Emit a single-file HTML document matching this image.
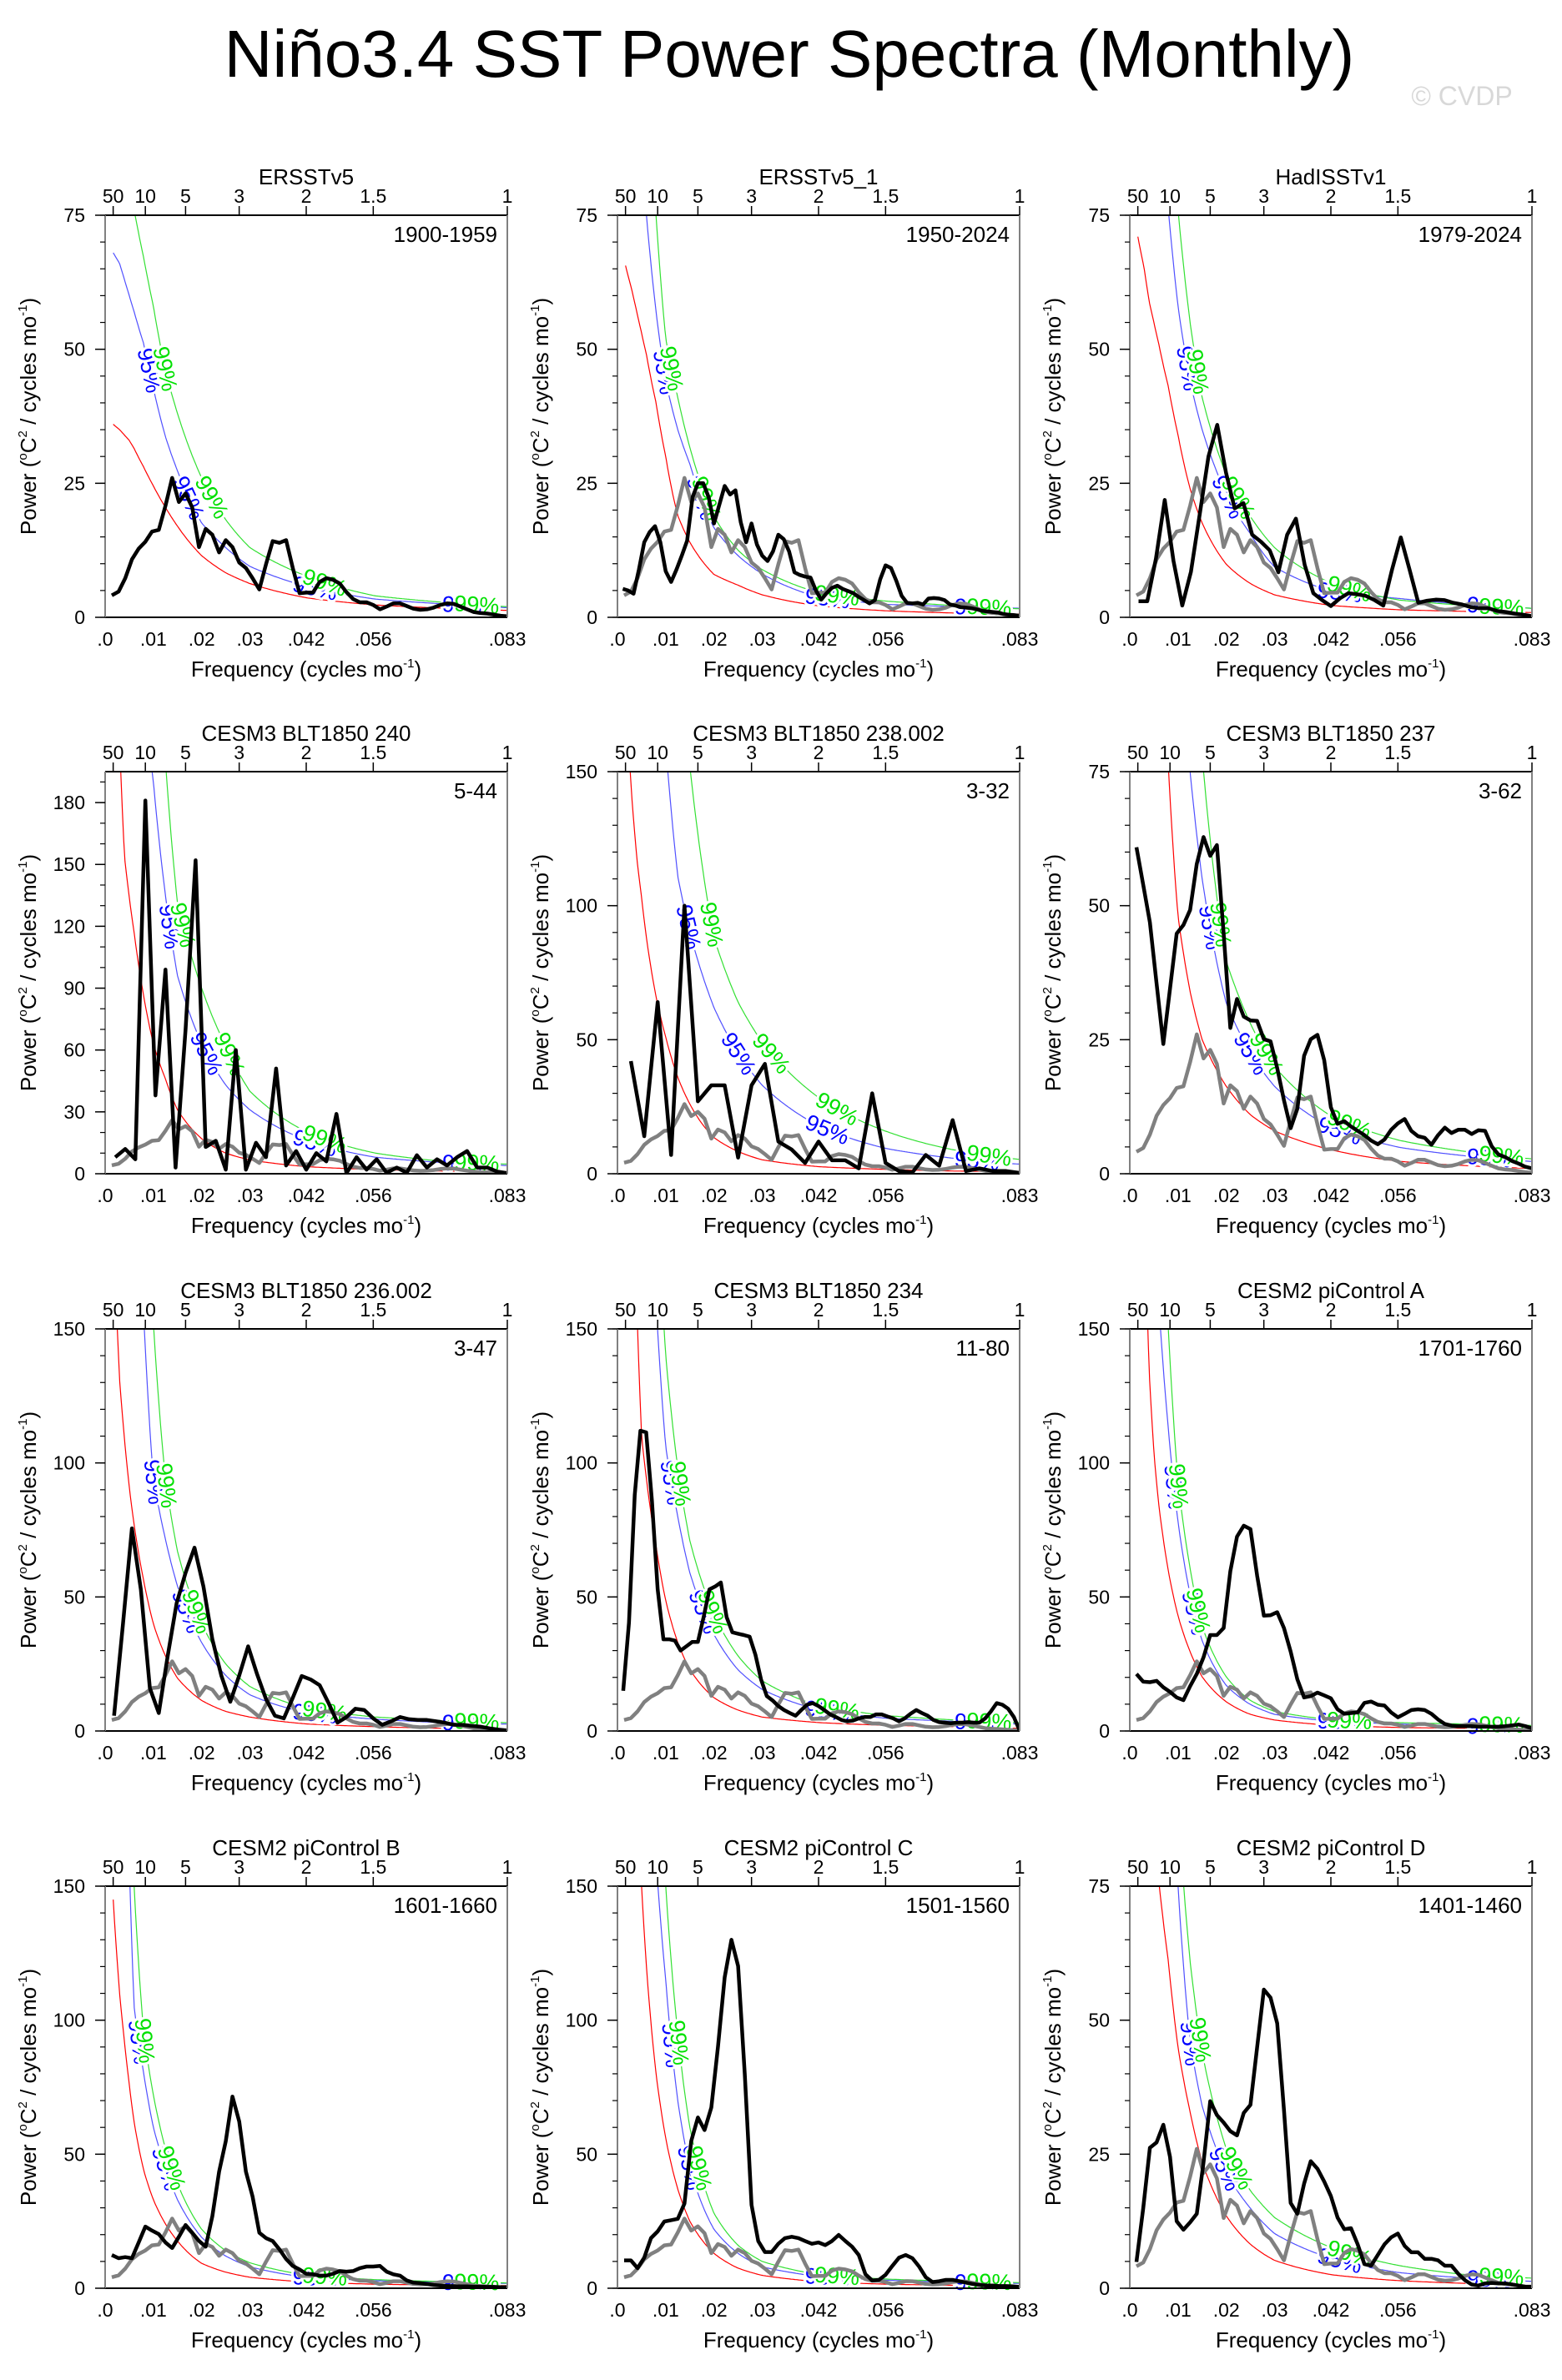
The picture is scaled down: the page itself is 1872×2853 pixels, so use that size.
<!DOCTYPE html>
<html><head><meta charset="utf-8"><title>Niño3.4 SST Power Spectra</title>
<style>
html,body{margin:0;padding:0;background:#fff;}
svg{display:block;font-family:"Liberation Sans",Arial,sans-serif;}
</style></head>
<body>
<svg id="fig" width="1872" height="2853" viewBox="0 0 1872 2853" xmlns="http://www.w3.org/2000/svg">
<rect x="0" y="0" width="1872" height="2853" fill="#fff"/>
<text x="946" y="92" font-size="80" text-anchor="middle" fill="#000">Niño3.4 SST Power Spectra (Monthly)</text>
<text x="1752" y="126" font-size="32" text-anchor="middle" fill="#d8d8d8">© CVDP</text>
</svg>
<script>
// ---------- data ----------
const panelTitles = ["ERSSTv5","ERSSTv5_1","HadISSTv1","CESM3 BLT1850 240","CESM3 BLT1850 238.002","CESM3 BLT1850 237","CESM3 BLT1850 236.002","CESM3 BLT1850 234","CESM2 piControl A","CESM2 piControl B","CESM2 piControl C","CESM2 piControl D"];
const periodLabels = ["1900-1959","1950-2024","1979-2024","5-44","3-32","3-62","3-47","11-80","1701-1760","1601-1660","1501-1560","1401-1460"];
const recordMonths = [720,900,552,480,360,720,540,840,720,720,720,720];
const yMax = [75,75,75,195,150,75,150,150,150,150,150,75];
const yTicks75 = [0,25,50,75];
const yTicks150 = [0,50,100,150];
const yTicks195 = [0,30,60,90,120,150,180];
const xTickValues = [0,0.01,0.02,0.03,1/24,1/18,1/12];
const xTickLabels = [".0",".01",".02",".03",".042",".056",".083"];
const periodTickYears = [50,10,5,3,2,1.5,1];
const periodTickLabels = ["50","10","5","3","2","1.5","1"];
const curveFreqs = [0.00167,0.003,0.004,0.005,0.006,0.008,0.01,0.0125,0.015,0.02,0.025,0.03,0.042,0.056,0.07,0.083];

const spec1 = [4.1,4.8,7.3,10.8,12.8,14.1,16,16.3,20.8,26,21.5,23.1,20.5,13.1,16.5,15.4,12.1,14.4,13.1,10.2,9.2,7.3,5.2,9.9,14.2,13.9,14.4,9.2,4.5,4.6,4.6,6.6,7.3,7,6.3,4.7,3.4,2.8,2.8,2.3,1.5,2.0,2.6,2.6,2.1,1.6,1.4,1.5,1.8,2.3,2.6,2.5,2.0,1.5,1.0,0.8,0.7,0.5,0.3,0.2];
const spec2 = [5.3,5.0,4.4,8.9,14,15.9,17,14,8.6,6.6,8.9,11.5,14.3,22.4,25,25,22.4,17.5,21,24.5,22.9,23.7,17.7,14,17.5,13.6,11.5,10.5,12.3,15.4,14.6,12.3,8.4,7.9,7.6,7.4,5,3.3,4.5,5.5,5.9,5.3,4.9,4.5,3.8,3.2,2.6,3.2,7.1,9.7,9.2,6.8,4,2.7,2.6,2.7,2.4,3.5,3.6,3.5,3.2,2.4,2.2,1.9,1.8,1.7,1.5,1.2,1.1,1.0,0.9,0.6,0.5,0.4,0.3];
const spec3 = [3,3,11,21.9,10.5,2.2,8.5,19.2,30,35.9,27,20.3,21.3,15.4,14.1,12.5,8.4,15.4,18.4,9.8,4.5,3.2,2.1,3.5,4.5,4.3,4,3.2,2.2,8.9,14.9,8.9,2.7,3.1,3.3,3.2,2.7,2.4,1.9,1.7,1.7,1.2,1.0,0.7,0.5,0.2];
const spec4 = [8,12,7,181,38,99,3,70,152,13,16,2,60,2,15,8,51,4,11,2,10,6,29,0.3,8,2,7,0.5,3,0.5,9,3,7,4,8,11,3,3,1,0.3];
const spec5 = [42,14,64,7,100,27,33,33,6,33,41,12,9,4,12,5,5,2,30,4,1,0.5,7,3,20,1,2,1,1,0.3];
const spec6 = [60.9,53.9,46.9,35.5,24.2,34.5,44.8,46.4,49.2,57.8,62.8,59.3,61.3,44.8,27.2,32.6,29.3,28.6,28.5,25.1,24.7,19.7,13.7,8.5,12.1,22,25.1,25.9,21.2,12.4,9.3,9.8,8.8,8,7.2,6.2,5.5,6.4,8.2,9.4,10.2,8,7,6.7,5.4,7.2,8.6,7.6,8.2,8.2,7.4,8.1,8,5.1,3.6,3.1,2.4,1.9,1.3,1];
const spec7 = [5.7,40,75.6,52.8,16,6.7,28,47.7,59,68.4,53.9,34.2,20.7,10.9,20.7,31.6,21.2,11.9,5.7,4.7,12.4,20.5,19.2,17.1,10.4,3.1,5.2,8.3,7.8,4.7,2.3,3.6,5.2,4.4,4.1,4.1,3.6,3.1,2.3,2.3,1.9,1.6,1,0.5,0.2];
const spec8 = [15,40.4,88,112,111.4,86,52.8,34.2,34.2,33.7,30,31.6,33.2,33.2,42.5,52.8,53.9,55.4,42.5,36.8,36.3,35.8,35.2,28.5,19.2,13,11.4,9.3,7.8,6.7,5.7,7.8,9.8,10.4,9.3,7.8,6.2,5.2,4.1,3.6,3.9,4.7,5.2,5.2,6.2,6.2,5.4,4.7,3.6,4.7,6.4,7.8,6.7,5.7,4.1,3.3,3.1,2.9,3.1,3.1,3.3,3.1,3.1,4.7,7.3,10.4,9.8,8.3,5.2,0.2];
const spec9 = [21.3,18.4,18.2,18.7,16.3,14.6,12.5,11.5,16.7,21.3,27.5,35.8,35.8,38.4,59.6,72.5,76.6,75.3,58,43,43.2,44.3,38.4,29.6,19.3,12.5,13,14.3,13.3,12.2,8.1,6.4,6.7,6.9,10.5,11,9.8,9.5,6.9,5.1,6.4,7.8,8.1,7.8,6.4,4.3,2.6,2,1.8,1.8,1.8,1.6,1.6,1.6,1.6,1.8,2.1,2.4,1.8,1];
const spec10 = [12.4,11.2,11.6,11.2,17.1,23,21.5,20.2,17.1,15,19.2,23.6,20.7,17.6,15.5,26.9,43.5,54.9,71.5,62.2,43.5,34.2,20.7,18.7,17.6,14.5,10.9,8.3,7,5.4,5.2,4.7,4.7,5.4,6.4,6.2,6.4,7.5,8.1,8.1,8.3,6.2,5.2,4.7,2.9,2.1,1.9,1.6,1.2,1,0.8,0.8,0.7,0.7,0.6,0.6,0.5,0.5,0.4,0.4];
const spec11 = [10.4,10.4,7.5,11.4,18.7,21.2,24.9,25.4,25.9,31.6,54.9,63.7,59,67.4,90.2,116,130,120.2,79.8,31.1,17.6,13.5,13.5,16.6,18.7,19.2,18.7,17.6,16.6,17.1,16.1,17.6,19.9,17.6,15.5,12.4,5.2,2.9,3.1,5,8.3,11.4,12.4,11.2,8.1,4.1,2.3,2.6,3.1,3.1,2.6,2.1,1.6,1.2,1,1,0.8,0.8,0.7,0.5];
const spec12 = [4.9,14.9,26.2,27.2,30.5,24.5,12.5,10.9,12.3,13.9,23.5,34.9,32.3,30.9,29.3,28.5,32.7,34.2,44.9,55.7,54.2,49.4,33.2,15.9,13.9,19.5,23.7,22.3,19.9,17.2,13.2,11,11.2,8.2,4.5,4.2,6.2,8.2,9.5,10.2,7.9,6.7,6.7,5.5,5.5,5.2,4.2,4.2,2.7,1.5,0.7,0.5,0.9,1,0.9,0.9,0.7,0.5,0.3,0.3];
const referenceSpec = spec1;

const red1 = [36,35,34,33,31.5,28,24.5,20.5,17,11.5,8.3,6.3,3.6,2.3,1.7,1.3];
const red2 = [65.6,61,57,53,49,40,30,19,14,8,6,4.2,2.1,1.2,0.8,0.6];
const red3 = [71,65,59,55,51,43,34,24,17.6,9.9,6.3,4.2,2.2,1.4,1.1,0.9];
const red4 = [300,210,154,134,117,86,63,46,31,17,10,6.7,3.4,2,1.3,1];
const red5 = [180,140,118,103,88,66,51,36,26,13.5,8.3,5.2,2.6,1.6,1,0.8];
const red6 = [250,180,150,130,110,76,48,34,25,16.3,11,8,4.4,2.3,1.5,1];
const red7 = [190,131,109,91,77,56,40,28,19.7,11.4,7.3,5.2,2.6,1.6,1,0.5];
const red8 = [400,250,160,110,94,69,48.7,33,23,12.4,7.8,5.2,3.1,2.1,1.6,1];
const red9 = [400,200,135,104,84.5,59.6,43,29.6,20.2,10.9,6.2,4.1,2.1,1.3,1,0.7];
const red10 = [145,110,92,76,62,44,33,24,17.6,9.3,6,4.1,2.3,1.5,1.2,1];
const red11 = [400,250,180,150,120,80,56,37,25,13,7.5,4.8,2.4,1.5,1.1,0.8];
const red12 = [300,180,140,110,76,60.9,44.9,32.9,23.5,13.5,8.2,5.2,2.5,1.4,0.9,0.5];

const sig95_1 = [68,66,63,60,57,51,42.7,33.7,27.3,17.6,13,9.5,5.7,3.4,2.5,1.8];
const sig95_2 = [150,120,105,90,75,57,44,35,28.6,16.7,11.5,8.1,3.7,2.4,2,1.7];
const sig95_3 = [200,150,130,110,95,76,58,44,35,23,15.6,9.4,4.8,3.5,2.4,1.7];
const sig95_4 = [600,450,380,330,290,230,190,135,96,63,43,31,16,8,5.4,4];
const sig95_5 = [600,450,380,320,270,200,160,111,90,62,45,33,17.6,9.3,5.7,3.6];
const sig95_6 = [800,500,400,300,250,160,110,75,55,31.8,22.5,16.3,8.5,4.9,3.3,2.3];
const sig95_7 = [600,400,300,230,190,155,94,71.5,54,33,20.7,13.5,6.7,4.4,3.1,2.6];
const sig95_8 = [800,500,400,300,240,160,106,80,59,36,22.8,15.5,7.8,4.7,3.6,2.6];
const sig95_9 = [800,400,300,220,160,112.5,78,51,33.7,17,9.9,6.2,3.6,2.6,1.8,1.6];
const sig95_10 = [400,250,200,160,105,80,60,45,33,19,12,8,4,2.8,2.2,1.8];
const sig95_11 = [900,500,380,300,230,160,115,70,45,22,13,8,4.3,3,2.2,1.8];
const sig95_12 = [600,400,300,220,170,110,75,46,34,21.5,14.9,10.2,5.5,2.9,1.9,1.3];

const sig99_1 = [90,86,83,79,76,67,58,46,38,26,18.2,13,7.6,4,2.8,2];
const sig99_2 = [200,160,135,115,98,75,52,41,31.7,18.8,12.5,8.9,4.5,3,2.2,1.6];
const sig99_3 = [250,200,170,150,130,100,76,55,41,26.5,18.8,13,6.3,3.2,2.2,1.7];
const sig99_4 = [800,600,500,450,400,320,250,200,131,90,62,40,20,10,6,4.7];
const sig99_5 = [900,700,600,500,420,330,260,190,152,88,64,49,28,15.6,8.8,5.4];
const sig99_6 = [1000,700,550,450,380,260,180,120,78,39.6,28,20,10.6,6.2,4.1,2.8];
const sig99_7 = [800,500,400,320,260,190,152,94,67,40,25,16.6,8.3,5.2,3.9,3.1];
const sig99_8 = [1000,600,500,400,320,210,140,98,71,43.5,28,18.7,9.3,5.7,4.1,3.1];
const sig99_9 = [1000,500,380,280,200,150,93,60.7,39,20.2,11.4,7.3,4.1,3.1,2.6,2.1];
const sig99_10 = [500,300,250,200,150,95,72,52,39,22,14,9.5,4.8,3.2,2.5,2];
const sig99_11 = [1100,700,500,400,320,220,150,95,60,28,16,10,5,3.4,2.6,2.1];
const sig99_12 = [800,500,400,300,220,150,90,61,44,26,18.2,13.2,7.5,4.2,2.5,1.9];

const spectra = [spec1,spec2,spec3,spec4,spec5,spec6,spec7,spec8,spec9,spec10,spec11,spec12];
const redCurves = [red1,red2,red3,red4,red5,red6,red7,red8,red9,red10,red11,red12];
const sig95Curves = [sig95_1,sig95_2,sig95_3,sig95_4,sig95_5,sig95_6,sig95_7,sig95_8,sig95_9,sig95_10,sig95_11,sig95_12];
const sig99Curves = [sig99_1,sig99_2,sig99_3,sig99_4,sig99_5,sig99_6,sig99_7,sig99_8,sig99_9,sig99_10,sig99_11,sig99_12];

// ---------- drawing ----------
const NS = "http://www.w3.org/2000/svg";
const svg = document.getElementById("fig");
const colLeft = [126,740,1354];
const rowTop = [258,925,1593,2261];
const W = 482, H = 482, FMAX = 1/12;

function el(tag, parent){ const e = document.createElementNS(NS, tag); parent.appendChild(e); return e; }
function interpCurve(arr, f){
  if (f <= curveFreqs[0]) return arr[0];
  for (let i=1;i<curveFreqs.length;i++){
    if (f <= curveFreqs[i]){
      const t=(f-curveFreqs[i-1])/(curveFreqs[i]-curveFreqs[i-1]);
      return Math.exp(Math.log(arr[i-1])*(1-t)+Math.log(arr[i])*t);
    }
  }
  return arr[arr.length-1];
}

for (let p=0;p<12;p++){
  const L = colLeft[p%3], T = rowTop[Math.floor(p/3)], ym = yMax[p];
  const xs = f => L + f/FMAX*W;
  const ys = v => T + H - v/ym*H;
  const g = el("g", svg);
  
  

  const cp = el("clipPath", g); cp.setAttribute("id","clip"+p);
  const cr = el("rect", cp); cr.setAttribute("x",L); cr.setAttribute("y",T); cr.setAttribute("width",W); cr.setAttribute("height",H);

  const curveDefs = [[redCurves[p],"#ff0000","red-noise-curve"],[sig95Curves[p],"#5050ff","confidence-95-curve"],[sig99Curves[p],"#33e033","confidence-99-curve"]];
  const labelLayer = [];
  curveDefs.forEach(([arr,col,nm],ci)=>{
    let d="";
    for (let i=0;i<=300;i++){
      const f = curveFreqs[0] + (FMAX-curveFreqs[0])*i/300;
      let y = ys(interpCurve(arr,f)); if (y < T-50) y = T-50;
      d += (i?"L":"M")+xs(f).toFixed(1)+","+y.toFixed(1);
    }
    const path = el("path", g);
    path.setAttribute("d", d); path.setAttribute("fill","none"); path.setAttribute("stroke",col); path.setAttribute("stroke-width","1.2");
    path.setAttribute("clip-path","url(#clip"+p+")");
    
    
    if (ci>0){
      const txt = ci===1?"95%":"99%";
      const tcol = ci===1?"#0000ff":"#00e000";
      const spots = [];
      [0.62,0.3].forEach(fr=>{
        for (let i=0;i<=600;i++){ const f=curveFreqs[0]+(FMAX-curveFreqs[0])*i/600; if (interpCurve(arr,f)<=fr*ym){ spots.push(f); break; } }
      });
      spots.push(ci===1?0.0435:0.0455); spots.push(ci===1?0.0745:0.077);
      spots.forEach(f=>labelLayer.push([f,arr,txt,tcol,ci]));
    }
  });
  labelLayer.forEach(([f,arr,txt,tcol,ci])=>{
    const x1=xs(f-0.0008), y1=ys(interpCurve(arr,f-0.0008)), x2=xs(f+0.0008), y2=ys(interpCurve(arr,f+0.0008));
    const ang = Math.atan2(y2-y1,x2-x1)*180/Math.PI;
    const x=xs(f), y=ys(interpCurve(arr,f));
    if (y < T+10 || y > T+H) return;
    const t = el("text", g);
    t.setAttribute("x",x); t.setAttribute("y",y); t.setAttribute("font-size","27"); t.setAttribute("fill",tcol);
    t.setAttribute("text-anchor","middle"); t.setAttribute("dominant-baseline","central");
    t.setAttribute("stroke","#fff"); t.setAttribute("stroke-width","6"); t.setAttribute("paint-order","stroke");
    t.setAttribute("transform","rotate("+ang.toFixed(1)+" "+x.toFixed(1)+" "+y.toFixed(1)+")");
    t.textContent = txt;
    
    
  });

  const drawSpec = (arr, N, col, nm) => {
    let d="";
    arr.forEach((v,i)=>{ d += (i?"L":"M")+xs((i+1)/N).toFixed(1)+","+ys(v).toFixed(1); });
    const path = el("path", g);
    path.setAttribute("d", d); path.setAttribute("fill","none"); path.setAttribute("stroke",col);
    path.setAttribute("stroke-width","4.5"); path.setAttribute("stroke-linejoin","round");
    path.setAttribute("clip-path","url(#clip"+p+")");
    
    
  };
  if (p>0) drawSpec(referenceSpec, 720, "#808080", "reference-spectrum-line");
  drawSpec(spectra[p], recordMonths[p], "#000", "power-spectrum-line");

  const frame = [[L,T,L+W,T,"#000"],[L,T+H,L+W,T+H,"#000"],[L,T,L,T+H,"#808080"],[L+W,T,L+W,T+H,"#808080"]];
  frame.forEach(([a,b,c,dd,col],i)=>{
    const ln = el("line", g);
    ln.setAttribute("x1",a); ln.setAttribute("y1",b); ln.setAttribute("x2",c); ln.setAttribute("y2",dd);
    ln.setAttribute("stroke",col); ln.setAttribute("stroke-width","2");
    
    
  });

  const yt = ym===75?yTicks75:(ym===195?yTicks195:yTicks150);
  const minorStep = ym===75?5:10;
  for (let v=0; v<=ym; v+=minorStep){
    const tk = el("line", g);
    tk.setAttribute("x1",L-6); tk.setAttribute("x2",L); tk.setAttribute("y1",ys(v)); tk.setAttribute("y2",ys(v));
    tk.setAttribute("stroke","#000"); tk.setAttribute("stroke-width","1.2");
    
    
  }
  yt.forEach(v=>{
    const tk = el("line", g);
    tk.setAttribute("x1",L-12); tk.setAttribute("x2",L); tk.setAttribute("y1",ys(v)); tk.setAttribute("y2",ys(v));
    tk.setAttribute("stroke","#000"); tk.setAttribute("stroke-width","1.5");
    
    
    const t = el("text", g);
    t.setAttribute("x",L-24); t.setAttribute("y",ys(v)+8); t.setAttribute("font-size","23"); t.setAttribute("text-anchor","end");
    t.textContent = String(v);
    
    
  });

  xTickValues.forEach((f,i)=>{
    const t = el("text", g);
    t.setAttribute("x",xs(f)); t.setAttribute("y",T+H+34); t.setAttribute("font-size","23"); t.setAttribute("text-anchor","middle");
    t.textContent = xTickLabels[i];
    
    
  });

  periodTickYears.forEach((yr,i)=>{
    const f = 1/(12*yr);
    const tk = el("line", g);
    tk.setAttribute("x1",xs(f)); tk.setAttribute("x2",xs(f)); tk.setAttribute("y1",T-11); tk.setAttribute("y2",T);
    tk.setAttribute("stroke","#000"); tk.setAttribute("stroke-width","1.5");
    
    
    const t = el("text", g);
    t.setAttribute("x",xs(f)); t.setAttribute("y",T-15); t.setAttribute("font-size","23"); t.setAttribute("text-anchor","middle");
    t.textContent = periodTickLabels[i];
    
    
  });

  const tt = el("text", g);
  tt.setAttribute("x",L+W/2); tt.setAttribute("y",T-37); tt.setAttribute("font-size","26"); tt.setAttribute("text-anchor","middle");
  tt.textContent = panelTitles[p];
  
  

  const pl = el("text", g);
  pl.setAttribute("x",L+W-12); pl.setAttribute("y",T+32); pl.setAttribute("font-size","26"); pl.setAttribute("text-anchor","end");
  pl.textContent = periodLabels[p];
  
  

  const xt = el("text", g);
  xt.setAttribute("x",L+W/2); xt.setAttribute("y",T+H+71); xt.setAttribute("font-size","26"); xt.setAttribute("text-anchor","middle");
  xt.innerHTML = 'Frequency (cycles mo<tspan font-size="15" dy="-11">-1</tspan><tspan dy="11">)</tspan>';
  
  

  const yx = L-83, yy = T+H/2;
  const ytl = el("text", g);
  ytl.setAttribute("x",yx); ytl.setAttribute("y",yy); ytl.setAttribute("font-size","26"); ytl.setAttribute("text-anchor","middle");
  ytl.setAttribute("transform","rotate(-90 "+yx+" "+yy+")");
  ytl.innerHTML = 'Power (<tspan font-size="15" dy="-11">o</tspan><tspan dy="11">C</tspan><tspan font-size="15" dy="-11">2</tspan><tspan dy="11"> / cycles mo</tspan><tspan font-size="15" dy="-11">-1</tspan><tspan dy="11">)</tspan>';
  
  
}
</script>
</body></html>
